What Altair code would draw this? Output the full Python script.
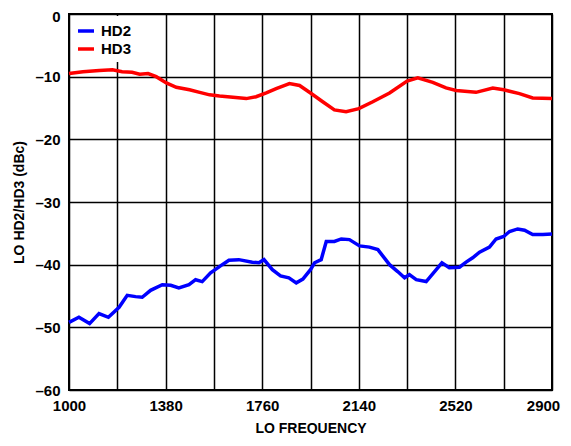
import altair as alt
import pandas as pd

# HD2 (blue) series
hd2_freq = [1000, 1039, 1081, 1118, 1155, 1197, 1229, 1262, 1288, 1321, 1367, 1400, 1432,
            1472, 1498, 1524, 1557, 1603, 1629, 1668, 1721, 1747, 1767, 1800, 1832, 1865,
            1894, 1920, 1950, 1966, 1992, 2012, 2044, 2071, 2103, 2143, 2182, 2215, 2261,
            2293, 2320, 2339, 2366, 2405, 2438, 2467, 2496, 2536, 2562, 2588, 2615, 2654,
            2680, 2710, 2733, 2765, 2792, 2824, 2864, 2900]
hd2_dbc = [-49.2, -48.4, -49.4, -47.8, -48.4, -46.8, -44.9, -45.1, -45.2, -44.1, -43.2, -43.3,
           -43.7, -43.2, -42.4, -42.7, -41.3, -40.0, -39.3, -39.2, -39.6, -39.7, -39.2, -40.8,
           -41.8, -42.1, -42.9, -42.3, -40.8, -39.7, -39.2, -36.3, -36.3, -35.9, -36.0, -37.0,
           -37.2, -37.6, -40.0, -41.1, -42.1, -41.6, -42.4, -42.7, -41.1, -39.7, -40.5, -40.4,
           -39.6, -38.9, -38.0, -37.2, -35.9, -35.5, -34.7, -34.3, -34.5, -35.2, -35.2, -35.1]

# HD3 (red) series
hd3_freq = [1000, 1055, 1119, 1171, 1209, 1248, 1278, 1311, 1343, 1383, 1422, 1474, 1514,
            1553, 1592, 1645, 1697, 1736, 1776, 1815, 1854, 1867, 1907, 1950, 1998, 2044,
            2090, 2140, 2195, 2261, 2330, 2372, 2431, 2483, 2523, 2601, 2667, 2710, 2772,
            2824, 2900]
hd3_dbc = [-9.5, -9.2, -9.0, -8.9, -9.2, -9.3, -9.6, -9.5, -10.0, -11.0, -11.7, -12.1, -12.5,
           -12.9, -13.1, -13.3, -13.5, -13.2, -12.6, -11.9, -11.3, -11.1, -11.4, -12.6, -14.0,
           -15.3, -15.6, -15.1, -14.0, -12.6, -10.7, -10.2, -10.9, -11.8, -12.2, -12.5, -11.8,
           -12.1, -12.7, -13.4, -13.5]

series_names = ["HD2", "HD3"]
series_colors = ["#0000FF", "#FF0000"]
x_ticks = [1000, 1190, 1380, 1570, 1760, 1950, 2140, 2330, 2520, 2710, 2900]
y_ticks = [-60, -50, -40, -30, -20, -10, 0]

df = pd.concat([
    pd.DataFrame({"freq": hd2_freq, "value": hd2_dbc, "series": series_names[0]}),
    pd.DataFrame({"freq": hd3_freq, "value": hd3_dbc, "series": series_names[1]}),
], ignore_index=True)

FONT = "Liberation Sans"

chart = alt.Chart(df).mark_line(strokeWidth=3.5).encode(
    x=alt.X("freq:Q",
            scale=alt.Scale(domain=[1000, 2900], nice=False, zero=False),
            axis=alt.Axis(values=x_ticks, format="d",
                          labelExpr="(datum.value - 1000) % 380 == 0 ? datum.label : ''",
                          labelOffset={"condition": {"test": "datum.value == 2900", "value": -9},
                                       "value": 0},
                          title="LO FREQUENCY", ticks=False, labelFlush=False,
                          labelOverlap=False, labelPadding=8, titlePadding=8)),
    y=alt.Y("value:Q",
            scale=alt.Scale(domain=[-60, 0], nice=False),
            axis=alt.Axis(values=y_ticks,
                          labelExpr="datum.value == 0 ? '0' : '\u2013' + abs(datum.value)",
                          labelOffset={"condition": {"test": "datum.value == 0", "value": 2},
                                       "value": 0},
                          title="LO HD2/HD3 (dBc)", ticks=False, labelPadding=9,
                          titlePadding=8)),
    color=alt.Color("series:N", title=None,
                    scale=alt.Scale(domain=series_names, range=series_colors),
                    legend=alt.Legend(orient="none", legendX=2, legendY=2,
                                      fillColor="white", padding=5,
                                      symbolType="stroke", symbolStrokeWidth=3.5,
                                      symbolSize=256, labelFont=FONT, labelFontSize=15,
                                      labelFontWeight="bold", labelColor="black",
                                      labelOffset=5, rowPadding=0)),
).properties(
    width=483, height=376, autosize="none",
    padding={"left": 61, "top": 6, "right": 11, "bottom": 44},
).configure_axis(
    grid=True, gridColor="black", gridWidth=1.5, gridOpacity=1, domain=False,
    labelFont=FONT, labelFontSize=15, labelFontWeight="bold", labelColor="black",
    titleFont=FONT, titleFontSize=14, titleFontWeight="bold", titleColor="black",
).configure_view(stroke="black", strokeWidth=2)

chart.save("out.html", embed_options={"renderer": "svg", "actions": False})
